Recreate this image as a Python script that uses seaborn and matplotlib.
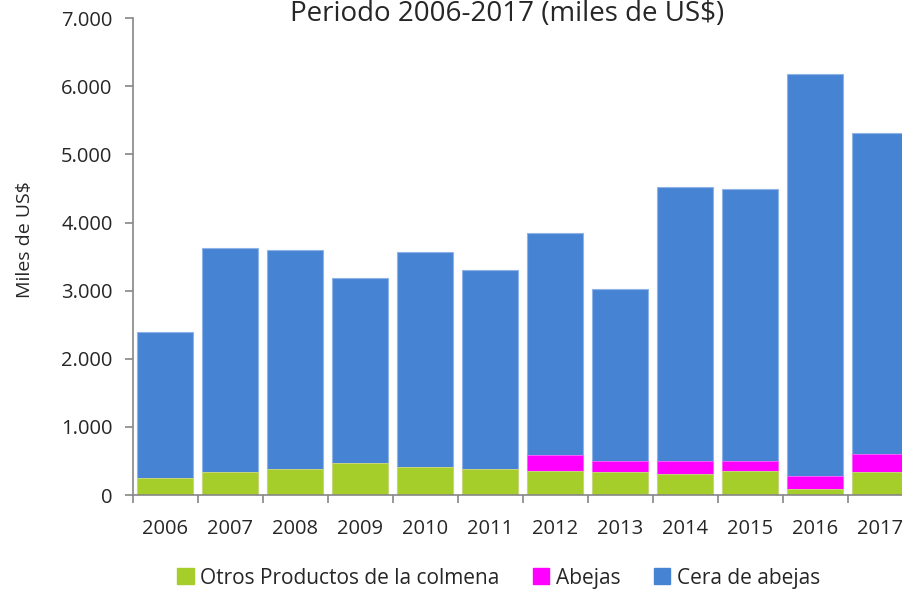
import matplotlib
matplotlib.use('Agg')
import matplotlib.pyplot as plt
import pandas as pd
import seaborn as sns
from matplotlib.patches import Patch
from matplotlib.ticker import FuncFormatter, FixedLocator

# Data (miles de US$)
years = ['2006', '2007', '2008', '2009', '2010', '2011', '2012', '2013', '2014', '2015', '2016', '2017']
otros = [250, 338, 386, 470, 411, 386, 357, 333, 308, 357, 88, 333]
abejas = [0, 0, 0, 0, 0, 0, 226, 162, 187, 138, 191, 273]
cera = [2140, 3289, 3212, 2717, 3157, 2918, 3264, 2530, 4028, 3998, 5903, 4710]

df = pd.DataFrame({'year': years, 'otros': otros, 'abejas': abejas, 'cera': cera})
df['lvl2'] = df['otros'] + df['abejas']
df['total'] = df['lvl2'] + df['cera']

c_green = '#A6CE2A'
c_mag = '#FF00FF'
c_blue = '#4684D3'

sns.set_style('white')
plt.rcParams['font.family'] = ['Open Sans', 'DejaVu Sans']

fig = plt.figure(figsize=(9.03, 5.9), dpi=100)
ax = fig.add_axes([0.147, 0.161, 0.864, 0.808])

# stacked bars: draw cumulative layers from top to bottom
sns.barplot(data=df, x='year', y='total', color=c_blue, width=0.86, saturation=1,
            edgecolor='#8FB3E6', linewidth=0.8, ax=ax)
sns.barplot(data=df, x='year', y='lvl2', color=c_mag, width=0.86, saturation=1,
            edgecolor='#FF66FF', linewidth=0.6, ax=ax)
sns.barplot(data=df, x='year', y='otros', color=c_green, width=0.86, saturation=1,
            edgecolor='#C5E07A', linewidth=0.6, ax=ax)

ax.set_xlim(-0.5, 11.5)
ax.set_ylim(0, 7000)
ax.set_yticks(range(0, 7001, 1000))
ax.yaxis.set_major_formatter(FuncFormatter(lambda v, p: f'{int(v):,}'.replace(',', '.')))

ax.set_xlabel('')
ax.set_ylabel('Miles de US$', fontsize=14)
ax.yaxis.set_label_coords(-0.127, 0.535)
ax.tick_params(axis='x', which='major', length=0, labelsize=14.5, pad=17)
ax.xaxis.set_minor_locator(FixedLocator([i - 0.5 for i in range(13)]))
ax.tick_params(axis='x', which='minor', length=5.5, color='#868686', width=1.2, direction='out', bottom=True)
ax.tick_params(axis='y', which='major', length=5.5, color='#868686', width=1.2, direction='out', left=True, labelsize=14.5, pad=9)

for s in ['top', 'right']:
    ax.spines[s].set_visible(False)
for s in ['left', 'bottom']:
    ax.spines[s].set_color('#868686')
    ax.spines[s].set_linewidth(1.2)

fig.text(0.562, 0.976, 'Periodo 2006-2017 (miles de US$)', ha='center', va='center', fontsize=20)

handles = [Patch(color=c_green, label='Otros Productos de la colmena'),
           Patch(color=c_mag, label='Abejas'),
           Patch(color=c_blue, label='Cera de abejas')]
fig.legend(handles=handles, loc='center', bbox_to_anchor=(0.552, 0.02), ncol=3, frameon=False,
           fontsize=15, handlelength=0.8, handleheight=0.8, handletextpad=0.3, columnspacing=1.6)

fig.savefig('out.png', dpi=100)
